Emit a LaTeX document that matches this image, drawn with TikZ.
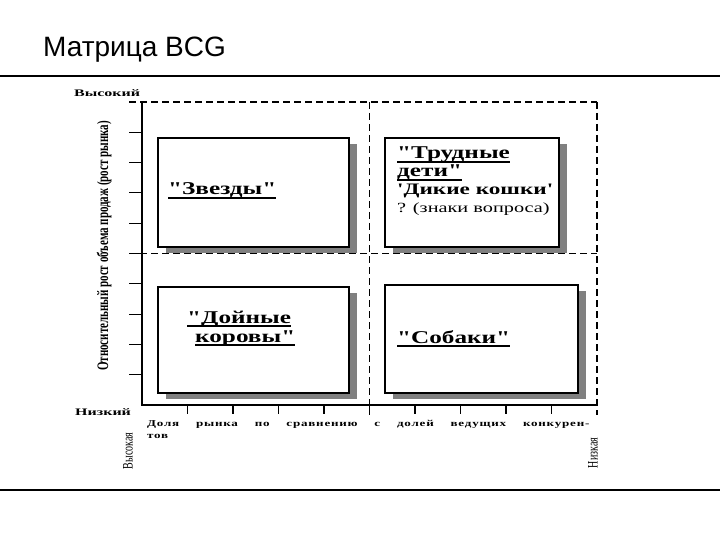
\documentclass[tikz,border=0pt]{standalone}
\usepackage{fontspec}
\setmainfont{Liberation Serif}
\newfontfamily\titlefont{Liberation Sans}
\usepackage{tikz}
\usetikzlibrary{calc}
\usetikzlibrary{shadows}

\newcommand{\wide}[2]{\scalebox{#1}[1]{#2}}
\newcommand{\tall}[2]{\scalebox{1}[#1]{#2}}
\newcommand{\ulined}[1]{\setbox0=\hbox{#1}\rlap{\raisebox{-4pt}{\rule{\wd0}{1.6pt}}}\box0}
\newcommand{\dq}{\textquotedbl}

\begin{document}
\begin{tikzpicture}[x=1pt,y=-1pt,
    axis/.style={line width=1.2pt},
    divider/.style={line width=1.1pt,dash pattern=on 7pt off 4pt},
    cell/.style={draw,line width=1.3pt,fill=white,inner sep=0pt,
        drop shadow={shadow xshift=8pt,shadow yshift=-6pt,fill=black!50,opacity=1}},
    caption/.style={anchor=base west,inner sep=0pt,font=\bfseries\fontsize{18}{18}\selectfont},
    axislabel/.style={inner sep=0pt,font=\bfseries\fontsize{10}{10}\selectfont}]
    \useasboundingbox (0,0) rectangle (720,540);
    \pgfmathsetmacro{\dx}{45.5}
    \pgfmathsetmacro{\dy}{30.3}

    \node[anchor=base west,inner sep=0pt,font=\titlefont\fontsize{28}{28}\selectfont] (title) at (43,57) {Матрица BCG};
    \draw[line width=2pt] (0,76) -- (720,76) (0,490) -- (720,490);

    % axes and quadrant lines
    \path (142,405) coordinate (O) (597,405) coordinate (X) (142,102) coordinate (Y)
    (129,102) coordinate (A) (597,102) coordinate (B) (129,253.5) coordinate (C)
    (597,253.5) coordinate (D) (369.5,102) coordinate (E) (369.5,415) coordinate (F)
    (597,415) coordinate (G);
    \draw[axis] (Y)--(O)--(X);
    \draw[divider] (A)--(B) (C)--(D) (E)--(F) (B)--(G);
    \foreach \k in {1,...,9} {
        \draw[axis] ($(O)+(0,-\k*\dy)$) -- ++(-13,0);
        \draw[axis] ($(O)+(\k*\dx,0)$) -- ++(0,9);
    }

    % the four boxes
    \node[cell,minimum width=191pt,minimum height=109pt] (stars) at (253.5,192.5) {};
    \node[cell,minimum width=174pt,minimum height=109pt] (kids) at (472,192.5) {};
    \node[cell,minimum width=191pt,minimum height=106pt] (cows) at (253.5,340) {};
    \node[cell,minimum width=193pt,minimum height=108pt] (dogs) at (481.5,339) {};

    \node[caption] (starsname) at (168,195) {\wide{1.4}{\ulined{\dq Звезды\dq}}};
    \node[caption] (kidsname) at (397,159) {\wide{1.4}{\ulined{\dq Трудные}}};
    \node[caption] (kidsname2) at (397,177) {\wide{1.4}{\ulined{дети\dq}}};
    \node[caption,font=\bfseries\fontsize{16}{16}\selectfont] (catsname) at (397,195) {\wide{1.45}{\textquotesingle Дикие кошки\textquotesingle}};
    \node[caption,font=\fontsize{14}{14}\selectfont] (question) at (397,212) {\wide{1.45}{? (знаки вопроса)}};
    \node[caption] (cowsname) at (187,323) {\wide{1.4}{\ulined{\dq Дойные}}};
    \node[caption] (cowsname2) at (195,342) {\wide{1.4}{\ulined{коровы\dq}}};
    \node[caption] (dogsname) at (397,343) {\wide{1.4}{\ulined{\dq Собаки\dq}}};

    % axis labels
    \node[axislabel,anchor=base west] (high) at (74,97) {\wide{1.6}{Высокий}};
    \node[axislabel,anchor=base west] (low) at (75,415) {\wide{1.6}{Низкий}};
    \node[axislabel,rotate=90,font=\bfseries\fontsize{11}{11}\selectfont] (growth) at (104,246) {\tall{1.45}{Относительный рост объема продаж (рост рынка)}};
    \node[axislabel,anchor=base west,font=\bfseries\fontsize{9}{9}\selectfont\addfontfeature{LetterSpace=6}] (share) at (147,426) {\wide{1.45}{\makebox[305pt][s]{Доля рынка по сравнению с долей ведущих конкурен-}}};
    \node[axislabel,anchor=base west,font=\bfseries\fontsize{9}{9}\selectfont\addfontfeature{LetterSpace=6}] (share2) at (147,438) {\wide{1.45}{тов}};
    \node[axislabel,rotate=90,font=\fontsize{10}{10}\selectfont] (hi) at (128,451) {\tall{1.45}{Высокая}};
    \node[axislabel,rotate=90,font=\fontsize{10}{10}\selectfont] (lo) at (593,453) {\tall{1.45}{Низкая}};
\end{tikzpicture}
\end{document}
